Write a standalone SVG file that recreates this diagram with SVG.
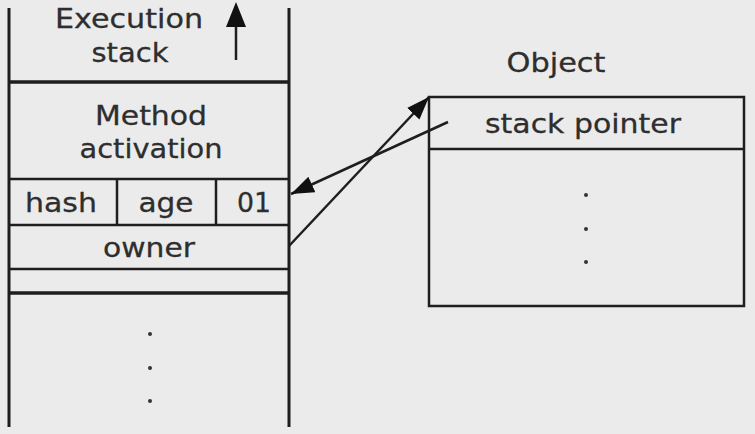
<svg xmlns="http://www.w3.org/2000/svg" width="755" height="434" viewBox="0 0 755 434">
<defs>
<style>
.ln{stroke:#1e1e1e;fill:none;stroke-linecap:butt}
.t{font-family:"DejaVu Sans","Liberation Sans",sans-serif;font-size:27px;fill:#2e2e2e;stroke:#2e2e2e;stroke-width:0.3;text-anchor:middle}
.dot{fill:#333}
</style>
<marker id="ah" markerUnits="userSpaceOnUse" markerWidth="26" markerHeight="20" refX="23" refY="8.5" orient="auto">
<path d="M0,0 L23,8.5 L0,17 Z" fill="#111"/>
</marker>
</defs>
<rect width="755" height="434" fill="#ebebeb"/>
<g id="stack">
<line class="ln" x1="9" y1="8" x2="9" y2="427" stroke-width="3"/>
<line class="ln" x1="289" y1="8" x2="289" y2="427" stroke-width="3"/>
<line class="ln" x1="9" y1="82" x2="289" y2="82" stroke-width="3.5"/>
<line class="ln" x1="9" y1="179" x2="289" y2="179" stroke-width="2.5"/>
<line class="ln" x1="9" y1="225" x2="289" y2="225" stroke-width="2.5"/>
<line class="ln" x1="9" y1="269" x2="289" y2="269" stroke-width="2.5"/>
<line class="ln" x1="9" y1="293" x2="289" y2="293" stroke-width="3.5"/>
<line class="ln" x1="117" y1="179" x2="117" y2="225" stroke-width="2.5"/>
<line class="ln" x1="216" y1="179" x2="216" y2="225" stroke-width="2.5"/>
<line class="ln" x1="236" y1="60" x2="236" y2="20" stroke-width="2.5"/>
<path d="M236,2 L246,27 L226,27 Z" fill="#111"/>
<text class="t" x="129" y="28" textLength="148" lengthAdjust="spacingAndGlyphs">Execution</text>
<text class="t" x="130" y="62" textLength="77" lengthAdjust="spacingAndGlyphs">stack</text>
<text class="t" x="151" y="125" textLength="112" lengthAdjust="spacingAndGlyphs">Method</text>
<text class="t" x="151" y="158" textLength="143" lengthAdjust="spacingAndGlyphs">activation</text>
<text class="t" x="61" y="212" textLength="72" lengthAdjust="spacingAndGlyphs">hash</text>
<text class="t" x="166" y="212" textLength="55" lengthAdjust="spacingAndGlyphs">age</text>
<text class="t" x="254" y="212" textLength="34" lengthAdjust="spacingAndGlyphs">01</text>
<text class="t" x="149" y="257" textLength="92" lengthAdjust="spacingAndGlyphs">owner</text>
<circle class="dot" cx="150" cy="334" r="2"/>
<circle class="dot" cx="150" cy="368" r="2"/>
<circle class="dot" cx="150" cy="401" r="2"/>
</g>
<g id="object">
<text class="t" x="556" y="72" textLength="99" lengthAdjust="spacingAndGlyphs">Object</text>
<rect class="ln" x="429" y="97" width="315" height="209" stroke-width="2.5"/>
<line class="ln" x1="429" y1="149" x2="744" y2="149" stroke-width="2.5"/>
<text class="t" x="583" y="133" textLength="196" lengthAdjust="spacingAndGlyphs">stack pointer</text>
<circle class="dot" cx="586" cy="195" r="2"/>
<circle class="dot" cx="586" cy="229" r="2"/>
<circle class="dot" cx="586" cy="262" r="2"/>
</g>
<g id="connectors">
<line class="ln" x1="289" y1="246" x2="429" y2="97" stroke-width="2.5" marker-end="url(#ah)"/>
<line class="ln" x1="448" y1="122" x2="291" y2="194" stroke-width="2.5" marker-end="url(#ah)"/>
</g>
</svg>
